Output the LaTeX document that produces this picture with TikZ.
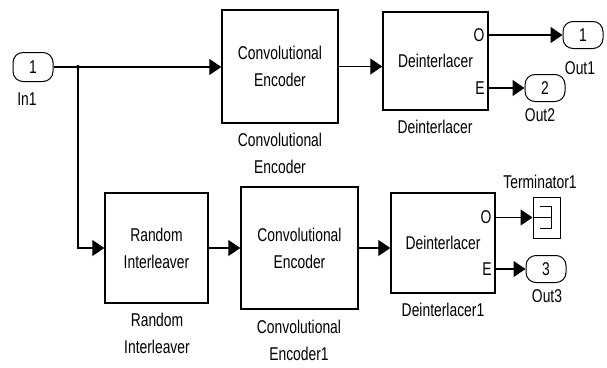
\documentclass[tikz,border=0pt]{standalone}
\usepackage{fontspec}
\newfontfamily\slfont{Liberation Sans}[FakeStretch=0.75]
\usetikzlibrary{arrows.meta,positioning,calc}
\tikzset{
  blk/.style={rectangle, draw, line width=1.4pt, fill=white, align=center,
              inner sep=0pt},
  iport/.style={rectangle, draw, line width=1pt, rounded corners=10pt,
                minimum width=40pt, minimum height=27pt, inner sep=0pt},
  lbl/.style={align=center, inner sep=0pt},
  pin/.style={anchor=east, inner sep=0pt},
  sig/.style={-{Triangle[length=12pt, width=16pt]}, line width=1.1pt},
  wire/.style={line width=1.1pt}
}

\begin{document}
\begin{tikzpicture}[x=1pt, y=-1pt,
    every node/.style={font=\slfont\fontsize{18.5}{27}\selectfont}]
  \useasboundingbox (0,0) rectangle (607,367);
  % ports
  \node[iport, minimum height=29pt] (in1) at (33,67) {1};
  \node[lbl] (in1lbl) at (27,99) {In1};
  \node[iport] (out1) at (583,35) {1};
  \node[lbl] (out1lbl) at (580,68) {Out1};
  \node[iport] (out2) at (545,88) {2};
  \node[lbl] (out2lbl) at (540,115) {Out2};
  \node[iport] (out3) at (546,269) {3};
  \node[lbl] (out3lbl) at (547,296) {Out3};
  \coordinate (split) at (78,67);
  % upper branch
  \node[blk, minimum width=116pt, minimum height=113pt] (enc) at (280,66.5) {Convolutional\\Encoder};
  \node[lbl] (enclbl) at (280,153.5) {Convolutional\\Encoder};
  \node[blk, minimum width=105pt, minimum height=98pt] (deint) at (435.5,61) {Deinterlacer};
  \node[lbl] (deintlbl) at (435,127) {Deinterlacer};
  \node[pin] (deinto) at ($(deint.east |- out1)+(-4,0)$) {O};
  \node[pin] (deinte) at ($(deint.east |- out2)+(-4,0)$) {E};
  % lower branch
  \node[blk, minimum width=103pt, minimum height=110pt] (rint) at (156.5,248) {Random\\Interleaver};
  \node[lbl] (rintlbl) at (157,333) {Random\\Interleaver};
  \node[blk, minimum width=117pt, minimum height=122pt] (enc1) at (299.5,248) {Convolutional\\Encoder};
  \node[lbl] (enc1lbl) at (299,340) {Convolutional\\Encoder1};
  \node[blk, minimum width=104pt, minimum height=100pt] (deint1) at (443,243) {Deinterlacer};
  \node[lbl] (deint1lbl) at (443,310) {Deinterlacer1};
  \node[blk, line width=1pt, minimum width=27pt, minimum height=41pt] (term) at (546.5,217.5) {};
  \node[lbl] (termlbl) at (540,182) {Terminator1};
  \node[pin] (deint1o) at ($(deint1.east |- term)+(-4,0)$) {O};
  \node[pin] (deint1e) at ($(deint1.east |- out3)+(-4,0)$) {E};
  \begin{scope}[shift={(term.center)}]
    \draw[wire] (-6.5,-11) -- (5,-11) -- (5,11) -- (-6.5,11);
    \draw[wire] (-13.5,0) -- (5,0);
  \end{scope}
  % signals
  \draw[wire] (in1) -- (split);
  \fill (split) circle (2pt);
  \draw[sig] (split) -- (split -| enc.west);
  \draw[sig] (split) |- (rint);
  \draw[sig] (enc.east) -- (enc.east -| deint.west);
  \draw[sig] (deint.east |- out1) -- (out1);
  \draw[sig] (deint.east |- out2) -- (out2);
  \draw[sig] (rint) -- (enc1);
  \draw[sig] (enc1.east) -- (enc1.east -| deint1.west);
  \draw[sig] (deint1.east |- term) -- (term);
  \draw[sig] (deint1.east |- out3) -- (out3);
\end{tikzpicture}
\end{document}
